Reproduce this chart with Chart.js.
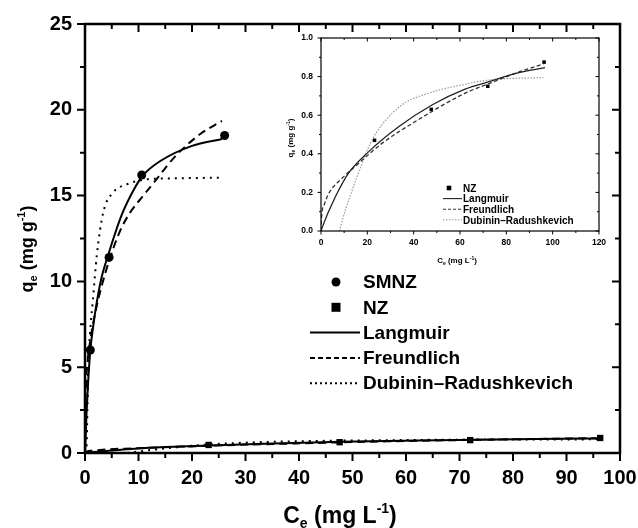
<!DOCTYPE html>
<html>
<head>
<meta charset="utf-8">
<script src="https://cdn.jsdelivr.net/npm/chart.js@4.4.1/dist/chart.umd.min.js"></script>
<style>
  html, body { margin: 0; padding: 0; background: #fff; }
  #wrap { position: relative; width: 638px; height: 528px; }
  #main { position: absolute; left: 0; top: 0; }
  #inset { position: absolute; left: 282px; top: 30px; }
</style>
</head>
<body>
<div id="wrap">
  <canvas id="main" width="638" height="528" style="width:638px;height:528px"></canvas>
  <canvas id="inset" width="325" height="240" style="width:325px;height:240px"></canvas>
</div>
<script>
// === Measured points ===
const smnzCe = [1.0, 4.5, 10.6, 26.1];
const smnzQe = [6.0, 11.4, 16.2, 18.5];
const nzCe = [23.1, 47.6, 72.0, 96.3];
const nzQe = [0.47, 0.63, 0.75, 0.875];

// === Fitted curves ===
const smnzLangmuirCe = [0, 0.1, 0.3, 0.6, 1.0, 1.5, 2.0, 3.0, 4.5, 6.9, 9.4, 10.9, 14.0, 20.0, 25.6];
const smnzLangmuirQe = [0, 0.8, 2.4, 4.2, 6.0, 7.3, 8.4, 10.1, 11.7, 13.9, 15.5, 16.2, 17.0, 17.9, 18.3];
const smnzFreundlichCe = [0, 0.05, 0.2, 0.5, 1.0, 2.0, 3.0, 4.5, 6.5, 8.4, 10.9, 13.5, 16.6, 21.6, 25.6];
const smnzFreundlichQe = [0, 2.4, 4.0, 5.4, 6.6, 8.3, 9.6, 11.2, 12.9, 14.0, 15.0, 16.0, 17.2, 18.6, 19.35];
const smnzDRCe = [0.15, 0.3, 0.45, 0.6, 0.95, 1.5, 2.2, 3.4, 5.3, 7.8, 11.6, 16.0, 25.6];
const smnzDRQe = [0, 0.5, 2.5, 5.0, 7.0, 9.0, 11.5, 14.0, 15.2, 15.65, 15.95, 16.0, 16.05];

const nzLangmuirCe = [0, 0.4, 6.2, 11.9, 20.5, 33.5, 47.9, 62.2, 73.0, 84.5, 96.7];
const nzLangmuirQe = [0, 0.015, 0.177, 0.30, 0.41, 0.54, 0.653, 0.735, 0.775, 0.818, 0.847];
const nzFreundlichCe = [0, 0.3, 1.5, 3.3, 9.0, 16.2, 26.3, 40.7, 62.2, 73.0, 84.5, 96.0];
const nzFreundlichQe = [0, 0.08, 0.14, 0.194, 0.272, 0.35, 0.454, 0.567, 0.714, 0.766, 0.82, 0.865];
const nzDRCe = [7.9, 10.5, 13.4, 17.7, 21.3, 26.3, 34.9, 46.4, 60.8, 73.0, 96.0];
const nzDRQe = [0, 0.108, 0.21, 0.35, 0.454, 0.55, 0.653, 0.714, 0.757, 0.783, 0.795];

// === Labels ===
const mainLegendLabels = ['SMNZ', 'NZ', 'Langmuir', 'Freundlich', 'Dubinin\u2013Radushkevich'];
const insetLegendLabels = ['NZ', 'Langmuir', 'Freundlich', 'Dubinin\u2013Radushkevich'];

const FONT = '"Liberation Sans", Arial, Helvetica, sans-serif';

const pts = (xs, ys) => xs.map((x, i) => ({ x, y: ys[i] }));

function curve(xs, ys, dash, width, color) {
  return {
    data: pts(xs, ys), showLine: true, pointRadius: 0,
    borderColor: color, borderWidth: width, borderDash: dash,
    cubicInterpolationMode: 'monotone', fill: false
  };
}

function markers(xs, ys, style, r) {
  return {
    data: pts(xs, ys), showLine: false, pointStyle: style, pointRadius: r,
    backgroundColor: '#000', borderColor: '#000', borderWidth: 0
  };
}

// Text with sub/superscripts; parts: [text, shift] where shift -1 = sub, 1 = sup
function richText(ctx, parts, size, x, y, rotate) {
  ctx.save();
  ctx.translate(x, y);
  if (rotate) ctx.rotate(-Math.PI / 2);
  ctx.fillStyle = '#000';
  ctx.textBaseline = 'alphabetic';
  const fontFor = s => `bold ${s ? Math.round(size * 0.62) : size}px ${FONT}`;
  let total = 0;
  const w = parts.map(([t, s]) => { ctx.font = fontFor(s); const m = ctx.measureText(t).width; total += m; return m; });
  let cx = -total / 2;
  parts.forEach(([t, s], i) => {
    ctx.font = fontFor(s);
    const dy = s === -1 ? size * 0.2 : s === 1 ? -size * 0.42 : 0;
    ctx.fillText(t, cx, dy);
    cx += w[i];
  });
  ctx.restore();
}

// Box frame with Origin-style ticks: outward on left/bottom, inward on top/right
const framePlugin = {
  id: 'frame',
  afterDraw(chart, args, o) {
    const { ctx, chartArea: a } = chart;
    const x = chart.scales.x, y = chart.scales.y;
    ctx.save();
    ctx.strokeStyle = '#000';
    ctx.lineWidth = o.width;
    ctx.strokeRect(a.left, a.top, a.right - a.left, a.bottom - a.top);
    ctx.lineWidth = o.tickWidth;
    ctx.beginPath();
    const nx = Math.round((x.max - x.min) / o.xMinor);
    for (let i = 0; i <= nx; i++) {
      const px = x.getPixelForValue(x.min + i * o.xMinor);
      const len = i % o.every === 0 ? o.major : o.minor;
      ctx.moveTo(px, a.bottom); ctx.lineTo(px, a.bottom + len);
      ctx.moveTo(px, a.top); ctx.lineTo(px, a.top + len);
    }
    const ny = Math.round((y.max - y.min) / o.yMinor);
    for (let i = 0; i <= ny; i++) {
      const py = y.getPixelForValue(y.min + i * o.yMinor);
      const len = i % o.every === 0 ? o.major : o.minor;
      ctx.moveTo(a.left, py); ctx.lineTo(a.left - len, py);
      ctx.moveTo(a.right, py); ctx.lineTo(a.right - len, py);
    }
    ctx.stroke();

    // axis titles
    const t = o.titles;
    richText(ctx, t.y, t.ySize, t.yX, t.yY, true);
    richText(ctx, t.x, t.xSize, t.xX, t.xY, false);

    // legend
    const L = o.legend;
    L.items.forEach((it, i) => {
      const ry = L.top + i * L.step;
      ctx.fillStyle = '#000';
      ctx.strokeStyle = it.color || '#000';
      if (it.kind === 'circle') {
        ctx.beginPath(); ctx.arc(L.markX, ry, L.r, 0, Math.PI * 2); ctx.fill();
      } else if (it.kind === 'rect') {
        ctx.fillRect(L.markX - L.r, ry - L.r, L.r * 2, L.r * 2);
      } else {
        ctx.lineWidth = L.lineWidth;
        ctx.setLineDash(it.dash);
        ctx.beginPath(); ctx.moveTo(L.lineX0, ry); ctx.lineTo(L.lineX1, ry); ctx.stroke();
        ctx.setLineDash([]);
      }
      ctx.fillStyle = '#000';
      ctx.font = `bold ${L.size}px ${FONT}`;
      ctx.textBaseline = 'middle';
      ctx.textAlign = 'left';
      ctx.fillText(it.label, L.textX, ry + 1);
    });
    ctx.restore();
  }
};

function tickFont(size) {
  return { family: FONT, size, weight: 'bold' };
}

// pin the plot area: no extra room for overhanging end labels
function fixX(h) {
  return s => { s.height = h; s.paddingLeft = 0; s.paddingRight = 0; };
}
function fixY(w) {
  return s => { s.width = w; s.paddingTop = 0; s.paddingBottom = 0; };
}

const noGrid = { display: false, drawTicks: false };

// === Main chart ===
const DASH = [8, 5];
const DOT = [2, 5];

new Chart(document.getElementById('main'), {
  type: 'scatter',
  data: {
    datasets: [
      curve(smnzLangmuirCe, smnzLangmuirQe, [], 2, '#000'),
      curve(smnzFreundlichCe, smnzFreundlichQe, DASH, 2, '#000'),
      curve(smnzDRCe, smnzDRQe, DOT, 2, '#000'),
      curve(nzLangmuirCe, nzLangmuirQe, [], 2, '#000'),
      curve(nzFreundlichCe, nzFreundlichQe, DASH, 2, '#000'),
      curve(nzDRCe, nzDRQe, DOT, 2, '#000'),
      markers(smnzCe, smnzQe, 'circle', 4.5),
      markers(nzCe, nzQe, 'rect', 4.5)
    ]
  },
  options: {
    responsive: false,
    animation: false,
    layout: { padding: { top: 24, right: 18, left: 0, bottom: 0 } },
    plugins: {
      legend: { display: false },
      tooltip: { enabled: false },
      frame: {
        width: 2.5, tickWidth: 2, major: 8, minor: 5, every: 2, xMinor: 5, yMinor: 2.5,
        titles: {
          y: [['q', 0], ['e', -1], [' (mg g', 0], ['-1', 1], [')', 0]], ySize: 18, yX: 33, yY: 249,
          x: [['C', 0], ['e', -1], [' (mg L', 0], ['-1', 1], [')', 0]], xSize: 23, xX: 340, xY: 523
        },
        legend: {
          top: 282, step: 25.3, markX: 336, r: 4.5, lineX0: 310, lineX1: 360, lineWidth: 2,
          textX: 363, size: 19,
          items: [
            { kind: 'circle', label: mainLegendLabels[0] },
            { kind: 'rect', label: mainLegendLabels[1] },
            { kind: 'line', dash: [], label: mainLegendLabels[2] },
            { kind: 'line', dash: [5, 3], label: mainLegendLabels[3] },
            { kind: 'line', dash: [2, 3], label: mainLegendLabels[4] }
          ]
        }
      }
    },
    scales: {
      x: {
        type: 'linear', min: 0, max: 100,
        afterFit: fixX(75),
        ticks: { stepSize: 10, color: '#000', font: tickFont(20), padding: 13, maxRotation: 0 },
        grid: noGrid, border: { display: false }
      },
      y: {
        type: 'linear', min: 0, max: 25,
        afterFit: fixY(85),
        ticks: { stepSize: 5, color: '#000', font: tickFont(20), padding: 13 },
        grid: noGrid, border: { display: false }
      }
    }
  },
  plugins: [framePlugin]
});

// === Inset chart (NZ only) ===
new Chart(document.getElementById('inset'), {
  type: 'scatter',
  data: {
    datasets: [
      curve(nzLangmuirCe, nzLangmuirQe, [], 1.3, '#222'),
      curve(nzFreundlichCe, nzFreundlichQe, [4, 2.5], 1.3, '#333'),
      curve(nzDRCe, nzDRQe, [1.5, 1.5], 1.2, '#999'),
      markers(nzCe, nzQe, 'rect', 2.5)
    ]
  },
  options: {
    responsive: false,
    animation: false,
    layout: { padding: { top: 8, right: 8, left: 0, bottom: 0 } },
    plugins: {
      legend: { display: false },
      tooltip: { enabled: false },
      frame: {
        width: 1.2, tickWidth: 1, major: 3.5, minor: 2, every: 2, xMinor: 10, yMinor: 0.1,
        titles: {
          y: [['q', 0], ['e', -1], [' (mg g', 0], ['-1', 1], [')', 0]], ySize: 8, yX: 11, yY: 108,
          x: [['C', 0], ['e', -1], [' (mg L', 0], ['-1', 1], [')', 0]], xSize: 8, xX: 175, xY: 233
        },
        legend: {
          top: 158, step: 10.6, markX: 167, r: 2.3, lineX0: 161, lineX1: 180, lineWidth: 1.1,
          textX: 181, size: 10,
          items: [
            { kind: 'rect', label: insetLegendLabels[0] },
            { kind: 'line', dash: [], label: insetLegendLabels[1], color: '#222' },
            { kind: 'line', dash: [3, 2], label: insetLegendLabels[2], color: '#333' },
            { kind: 'line', dash: [1.5, 1.5], label: insetLegendLabels[3], color: '#999' }
          ]
        }
      }
    },
    scales: {
      x: {
        type: 'linear', min: 0, max: 120,
        afterFit: fixX(39),
        ticks: { stepSize: 20, color: '#000', font: tickFont(8.5), padding: 7, maxRotation: 0 },
        grid: noGrid, border: { display: false }
      },
      y: {
        type: 'linear', min: 0, max: 1.0,
        afterFit: fixY(39),
        ticks: { stepSize: 0.2, color: '#000', font: tickFont(8.5), padding: 8, callback: v => v.toFixed(1) },
        grid: noGrid, border: { display: false }
      }
    }
  },
  plugins: [framePlugin]
});
</script>
</body>
</html>
